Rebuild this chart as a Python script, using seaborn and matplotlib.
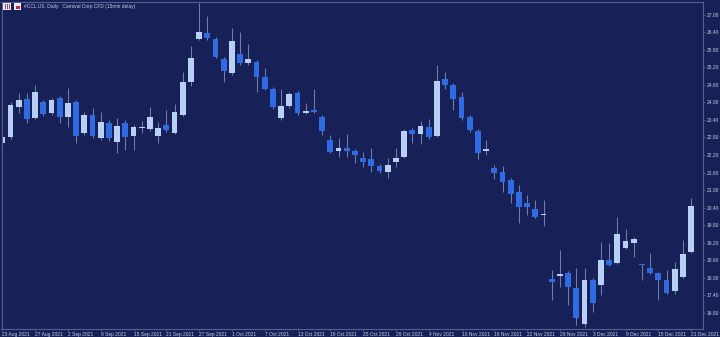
import matplotlib
matplotlib.use("Agg")
import matplotlib.pyplot as plt
import matplotlib.patches as mpatches
import seaborn as sns
import numpy as np
import pandas as pd

# ---------------- data ----------------
holidays = ["2021-09-06", "2021-11-25"]
dates = [d for d in pd.bdate_range("2021-08-23", "2021-12-21") if d.strftime("%Y-%m-%d") not in holidays]

opens = [22.61, 22.81, 23.84, 24.11, 23.46, 24.01, 23.63, 24.15, 23.50, 24.01,
         22.95, 23.57, 22.78, 23.29, 22.64, 23.29, 22.85, 23.14, 23.09, 22.85,
         23.22, 22.95, 23.57, 24.70, 26.17, 26.37, 26.17, 25.48, 25.00, 25.65,
         25.35, 25.38, 24.87, 24.46, 23.46, 23.87, 24.32, 23.63, 23.74, 23.50,
         22.71, 22.33, 22.43, 22.33, 22.09, 22.06, 21.82, 21.61, 21.95, 22.13,
         23.05, 22.91, 23.15, 22.85, 24.80, 24.59, 24.18, 23.50, 23.02, 22.33,
         21.75, 21.61, 21.34, 20.93, 20.55, 20.35, 20.16, 17.95, 18.05, 18.15,
         17.64, 16.41, 17.91, 17.74, 18.60, 18.50, 19.01, 19.18, 18.45, 18.33,
         18.15, 17.91, 17.54, 18.02, 18.87]
highs = [22.95, 24.01, 24.32, 24.32, 24.59, 24.08, 24.15, 24.22, 24.49, 24.08,
         23.67, 23.80, 23.67, 23.39, 23.46, 23.39, 23.22, 23.36, 23.84, 23.33,
         23.74, 23.94, 25.04, 25.93, 27.40, 26.96, 26.24, 25.55, 26.54, 26.41,
         26.00, 25.45, 25.17, 24.52, 24.46, 24.35, 24.39, 23.98, 24.46, 23.57,
         22.88, 22.78, 22.91, 22.40, 22.30, 22.43, 21.89, 22.09, 22.43, 23.09,
         23.12, 23.36, 23.43, 25.28, 25.04, 24.66, 24.35, 23.57, 23.09, 22.71,
         21.85, 21.82, 21.41, 21.17, 20.83, 20.65, 20.65, 18.26, 18.94, 18.22,
         18.33, 18.33, 17.98, 19.22, 19.18, 20.07, 19.66, 19.39, 18.46, 18.84,
         18.19, 18.26, 18.53, 19.28, 20.72]
lows = [22.47, 22.74, 23.63, 23.29, 23.43, 23.53, 23.57, 23.29, 23.15, 22.61,
        22.88, 22.78, 22.71, 22.67, 22.26, 22.37, 22.37, 22.95, 23.02, 22.61,
        22.98, 22.91, 23.53, 24.56, 26.13, 26.13, 25.52, 24.70, 24.94, 25.28,
        25.28, 24.35, 24.42, 23.77, 23.39, 23.80, 23.57, 23.60, 23.63, 22.88,
        22.26, 22.13, 22.13, 21.92, 21.78, 21.61, 21.58, 21.41, 21.78, 22.09,
        22.61, 22.57, 22.74, 22.81, 24.46, 23.74, 23.39, 22.98, 22.06, 22.19,
        21.37, 20.93, 20.55, 19.87, 20.14, 20.04, 19.76, 17.23, 17.67, 17.06,
        16.37, 16.30, 16.82, 17.40, 18.39, 18.46, 18.98, 18.70, 17.91, 18.12,
        17.23, 17.44, 17.44, 17.98, 18.84]
closes = [22.81, 23.91, 24.08, 23.43, 24.35, 23.60, 24.08, 23.50, 23.98, 22.85,
          23.57, 22.85, 23.33, 22.78, 23.19, 22.81, 23.15, 23.16, 23.50, 23.12,
          23.05, 23.67, 24.70, 25.52, 26.41, 26.20, 25.55, 25.07, 26.10, 25.35,
          25.48, 24.87, 24.46, 23.84, 23.87, 24.28, 23.63, 23.70, 23.67, 23.02,
          22.30, 22.43, 22.33, 22.19, 21.95, 21.82, 21.65, 21.85, 22.09, 23.02,
          22.91, 23.19, 22.81, 24.73, 24.59, 24.11, 23.46, 23.05, 22.26, 22.40,
          21.58, 21.27, 20.86, 20.41, 20.41, 20.07, 20.18, 17.85, 18.12, 17.67,
          16.61, 17.91, 17.13, 18.60, 18.43, 19.49, 19.25, 19.32, 18.42, 18.15,
          17.91, 17.47, 18.29, 18.80, 20.45]

y_ticks = [16.80, 17.40, 18.00, 18.60, 19.20, 19.80, 20.40, 21.00, 21.60,
           22.20, 22.80, 23.40, 24.00, 24.60, 25.20, 25.80, 26.40, 27.00]
title_text = "#CCL.US, Daily:  Carnival Corp CFD (15min delay)"

df = pd.DataFrame({"date": dates, "open": opens, "high": highs, "low": lows, "close": closes})
df["idx"] = np.arange(len(df))
df["up"] = df["close"] >= df["open"]
df["bottom"] = df[["open", "close"]].min(axis=1)
df["height"] = (df["close"] - df["open"]).abs().clip(lower=0.035)

# ---------------- style ----------------
BG = "#172057"
BULL = "#b9d0f5"
BEAR = "#2f6be3"
WICK = "#737ea8"
TXT = "#c9d0e6"
SPINE = "#56618f"
FS = 3.5

sns.set_theme(style="dark")
plt.rcParams["font.family"] = ["Liberation Sans", "DejaVu Sans"]

W, H = 720, 337
fig = plt.figure(figsize=(W / 100, H / 100), dpi=100)
fig.patch.set_facecolor(BG)
ax = fig.add_axes([1.5 / W, 8 / H, 701.5 / W, 327 / H])
ax.set_facecolor(BG)

# wicks
ax.vlines(df["idx"], df["low"], df["high"], color=WICK, linewidth=0.75, zorder=1)
# bodies
colors = [BULL if u else BEAR for u in df["up"]]
ax.bar(df["idx"], df["height"], bottom=df["bottom"], width=0.72,
       color=colors, edgecolor="none", zorder=2)

ax.set_xlim(-0.1, 85.45)
ax.set_ylim(16.24, 27.44)
ax.grid(False)

# y axis on right
ax.yaxis.tick_right()
ax.set_yticks(y_ticks)
ax.set_yticklabels([f"{v:.2f}" for v in y_ticks])
ax.tick_params(axis="y", colors=SPINE, labelcolor=TXT, labelsize=FS,
               length=1.5, width=0.6, pad=1.0, direction="out", right=True, left=False)

# x ticks every 4 trading days, labels left aligned at bar
xt = list(range(0, len(df), 4))
ax.set_xticks(xt)
ax.set_xticklabels([f"{df['date'][i].day} {df['date'][i].strftime('%b %Y')}" for i in xt])
ax.tick_params(axis="x", colors=SPINE, labelcolor=TXT, labelsize=FS,
               length=1.5, width=0.6, pad=1.0, direction="out", bottom=True)
for lbl in ax.get_xticklabels():
    lbl.set_horizontalalignment("left")

for s in ax.spines.values():
    s.set_visible(True)
    s.set_color(SPINE)
    s.set_linewidth(0.8)

# header
fig.text(24 / W, 1 - 6.5 / H, title_text, fontsize=FS, color=TXT, va="center", ha="left")
# small icons
fig.patches.append(mpatches.Rectangle((3 / W, 1 - 10 / H), 8 / W, 7 / H, transform=fig.transFigure,
                                      facecolor="#e8e8f0", edgecolor="none"))
for k in range(3):
    fig.patches.append(mpatches.Rectangle(((4.5 + 2.2 * k) / W, 1 - 9 / H), 1 / W, 5 / H,
                                          transform=fig.transFigure,
                                          facecolor="#d04040" if k != 1 else "#4060c0",
                                          edgecolor="none"))
fig.patches.append(mpatches.Rectangle((14 / W, 1 - 10 / H), 7 / W, 7 / H, transform=fig.transFigure,
                                      facecolor="#e8e8f0", edgecolor="none"))
fig.patches.append(mpatches.Rectangle((15.5 / W, 1 - 9 / H), 4 / W, 3 / H, transform=fig.transFigure,
                                      facecolor="#c03030", edgecolor="none"))

fig.savefig("out.png", dpi=100, facecolor=BG)
